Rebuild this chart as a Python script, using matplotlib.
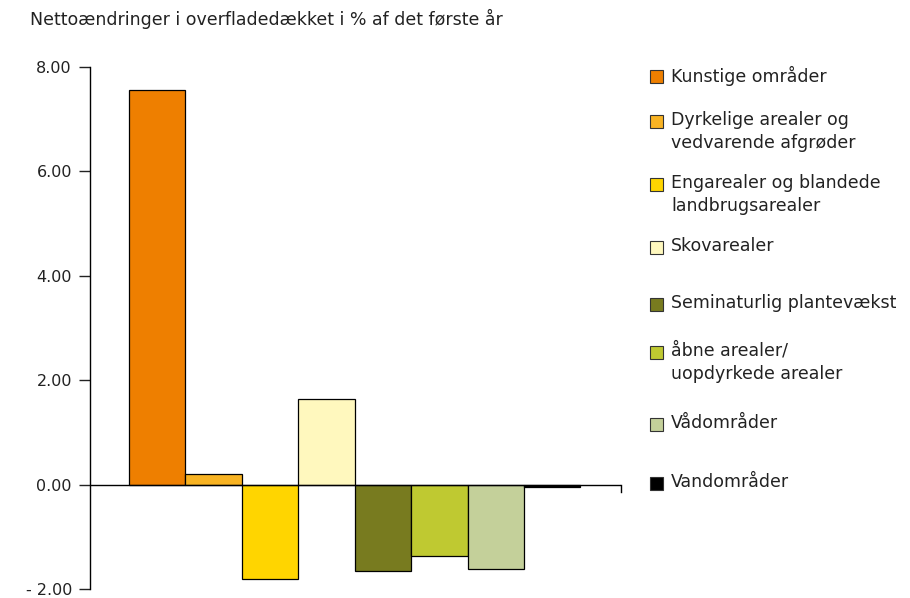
import matplotlib

matplotlib.use("Agg")
import matplotlib.pyplot as plt
from matplotlib.patches import Rectangle

# Net change in land cover, % of first year
categories = [
    "Kunstige områder",
    "Dyrkelige arealer og\nvedvarende afgrøder",
    "Engarealer og blandede\nlandbrugsarealer",
    "Skovarealer",
    "Seminaturlig plantevækst",
    "åbne arealer/\nuopdyrkede arealer",
    "Vådområder",
    "Vandområder",
]
values = [7.55, 0.20, -1.81, 1.64, -1.65, -1.37, -1.61, -0.04]
colors = ["#EE7F00", "#F8B323", "#FFD500", "#FFF8BE",
          "#787B1F", "#BFC931", "#C4D09A", "#000000"]
yticks = [-2, 0, 2, 4, 6, 8]
ytick_labels = ["- 2.00", "0.00", "2.00", "4.00", "6.00", "8.00"]
title = "Nettoændringer i overfladedækket i % af det første år"

plt.rcParams["font.family"] = ["DejaVu Sans"]
W, H = 910, 598
fig = plt.figure(figsize=(W / 100, H / 100), dpi=100)
ax = fig.add_axes([90 / W, 1 - 589 / H, (621 - 90) / W, (589 - 67) / H])

x = list(range(len(values)))
ax.bar(x, values, width=1.0, color=colors, edgecolor="black", linewidth=0.9, zorder=2)
ax.set_xlim(-1.19, 8.22)
ax.set_ylim(-2, 8)

ax.axhline(0, color="black", linewidth=1.0, zorder=3)
ax.plot([1, 1], [0, -0.15], transform=ax.get_yaxis_transform(), color="black",
        linewidth=1.0, clip_on=False)

for side in ("top", "right", "bottom"):
    ax.spines[side].set_visible(False)
ax.spines["left"].set_linewidth(1.0)
ax.set_xticks([])
ax.set_yticks(yticks)
ax.set_yticklabels(ytick_labels)
ax.tick_params(axis="y", direction="out", length=8, width=1.0, labelsize=11.5,
               pad=5, colors="#222222")

fig.text(30 / W, 1 - 19 / H, title, fontsize=12.5, va="center", ha="left", color="#222222")

# legend, placed by hand to keep the uneven spacing of the original
# (y of the first text line for each entry)
legend_y = [76, 121, 184, 247, 304, 352, 424, 483]
for lab, col, yy in zip(categories, colors, legend_y):
    fig.patches.append(Rectangle((650 / W, 1 - (yy + 7) / H), 13 / W, 13 / H,
                                 transform=fig.transFigure, facecolor=col,
                                 edgecolor="#333333", linewidth=0.8))
    fig.text(671 / W, 1 - (yy - 10) / H, lab, fontsize=12.5, va="top", ha="left",
             linespacing=1.35, color="#222222")

fig.savefig("out.png", dpi=100)
